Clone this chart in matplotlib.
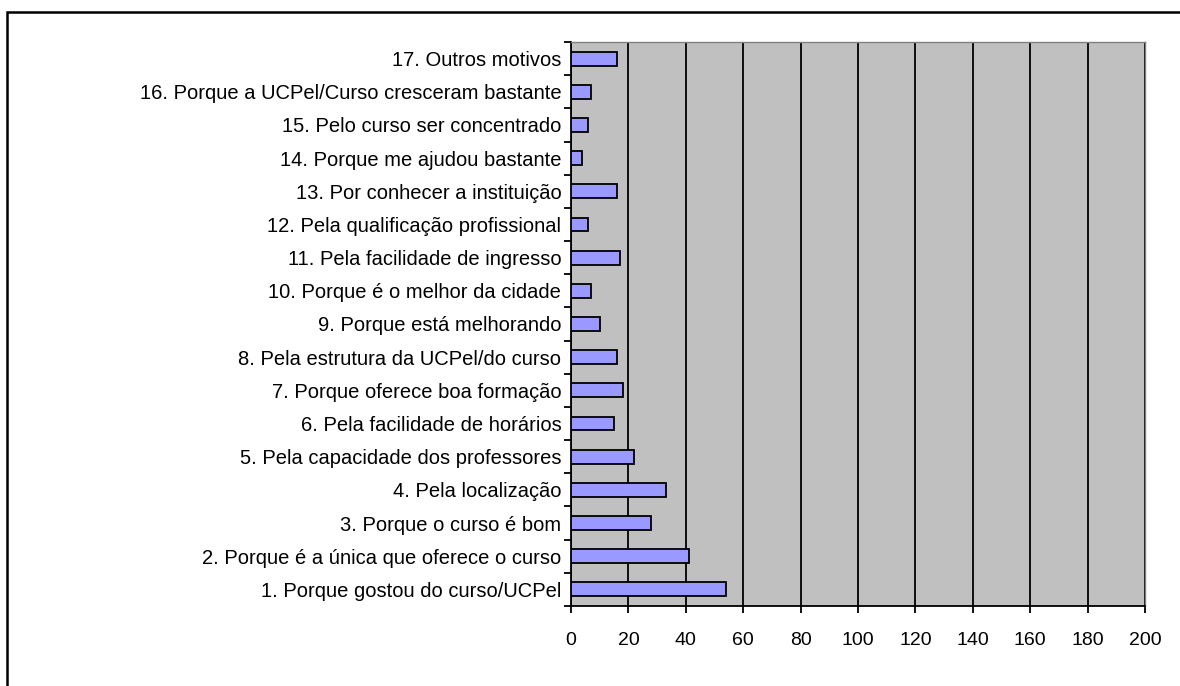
import numpy as np
import matplotlib.pyplot as plt
from matplotlib.patches import Rectangle
from matplotlib import font_manager

labels = [
    "1. Porque gostou do curso/UCPel",
    "2. Porque é a única que oferece o curso",
    "3. Porque o curso é bom",
    "4. Pela localização",
    "5. Pela capacidade dos professores",
    "6. Pela facilidade de horários",
    "7. Porque oferece boa formação",
    "8. Pela estrutura da UCPel/do curso",
    "9. Porque está melhorando",
    "10. Porque é o melhor da cidade",
    "11. Pela facilidade de ingresso",
    "12. Pela qualificação profissional",
    "13. Por conhecer a instituição",
    "14. Porque me ajudou bastante",
    "15. Pelo curso ser concentrado",
    "16. Porque a UCPel/Curso cresceram bastante",
    "17. Outros motivos",
]
values = [54, 41, 28, 33, 22, 15, 18, 16, 10, 7, 17, 6, 16, 4, 6, 7, 16]
x_ticks = [0, 20, 40, 60, 80, 100, 120, 140, 160, 180, 200]

# narrow font like Arial Narrow if available
names = {f.name for f in font_manager.fontManager.ttflist}
family = "Liberation Sans Narrow" if "Liberation Sans Narrow" in names else "Liberation Sans"
plt.rcParams['font.family'] = [family, 'DejaVu Sans']

fig = plt.figure(figsize=(11.8, 6.86), dpi=100)
ax = fig.add_axes([571 / 1180, 1 - 606 / 686, (1145 - 571) / 1180, (606 - 42) / 686])

# outer frame (runs off the right and bottom edges)
fig.patches.append(Rectangle((7 / 1180, -0.1), 1.2, 1 - 12 / 686 + 0.1,
                             transform=fig.transFigure, fill=False,
                             edgecolor='black', linewidth=1.8, clip_on=False))

y = np.arange(len(labels))
ax.set_facecolor('#C0C0C0')
ax.barh(y, values, height=0.42, color='#9999FF', edgecolor='black', linewidth=1.3, zorder=3)

ax.set_xlim(0, 200)
ax.set_ylim(-0.5, len(labels) - 0.5)
ax.set_xticks(x_ticks)
ax.xaxis.grid(True, color='black', linewidth=1.3, zorder=1)
ax.set_axisbelow(True)

ax.set_yticks(y)
ax.set_yticklabels(labels, fontsize=14.5)
ax.tick_params(axis='y', length=0, pad=7)
ax.set_yticks(np.arange(-0.5, len(labels), 1), minor=True)
ax.tick_params(axis='y', which='minor', length=5, width=1.3, direction='out')
ax.tick_params(axis='x', length=5, width=1.3, direction='out', labelsize=14, pad=14)

for s in ['left', 'bottom']:
    ax.spines[s].set_color('black')
    ax.spines[s].set_linewidth(1.3)
for s in ['top', 'right']:
    ax.spines[s].set_color('#808080')
    ax.spines[s].set_linewidth(1.0)

plt.savefig("out.png", dpi=100)
